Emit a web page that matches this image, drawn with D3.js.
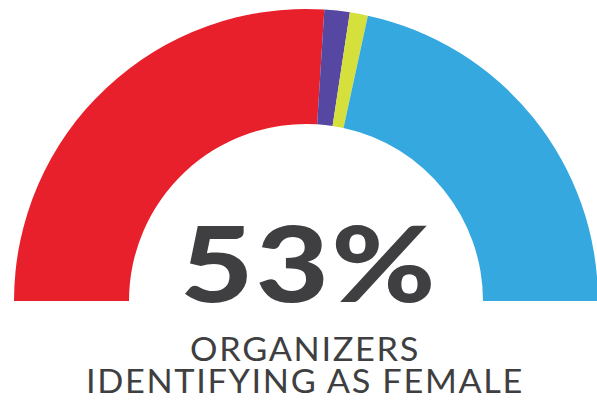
<!DOCTYPE html>
<html lang="en">
<head>
	<meta charset="UTF-8">
	<title>Organizers gauge</title>
	<script type="text/javascript" src="https://cdn.jsdelivr.net/npm/d3@7"></script>
	<style>
		body {
			margin: 0;
			background: #fff;
		}

		svg text {
			font-family: "Lato";
			fill: #3f3f42;
		}
	</style>
</head>
<body>
<div id="viz"></div>

<script type="text/javascript">
	var groups = ['Female', 'Group 2', 'Group 3', 'Male'];
	var shares = [52, 2.8, 2, 43.2];
	var colors = ['#e8202b', '#5647a3', '#d6e03c', '#35a8df'];
	var bigLabel = '53%';
	var captionLines = ['ORGANIZERS', 'IDENTIFYING AS FEMALE'];

	var width = 597, height = 400;
	var cx = 306, cy = 301;

	var svg = d3.select('#viz')
		.append('svg')
		.attr('width', width)
		.attr('height', height);

	var g = svg.append('g')
		.attr('transform', 'translate(' + cx + ',' + cy + ')');

	var pie = d3.pie()
		.sort(null)
		.startAngle(-Math.PI / 2)
		.endAngle(Math.PI / 2)
		.value(function (d) {
			return d;
		});

	var arc = d3.arc()
		.innerRadius(177)
		.outerRadius(292);

	var color = d3.scaleOrdinal()
		.domain(groups)
		.range(colors);

	g.selectAll('.slice')
		.data(pie(shares))
		.enter().append('path')
		.attr('class', 'slice')
		.attr('d', arc)
		.style('fill', function (d, i) {
			return color(groups[i]);
		});

	// the original face is wider than Lato, so stretch it a little
	svg.append('g')
		.attr('transform', 'translate(' + (cx + 3) + ',302) scale(1.2,1)')
		.append('text')
		.attr('x', 0)
		.attr('y', 0)
		.attr('text-anchor', 'middle')
		.attr('font-size', 105)
		.attr('font-weight', 900)
		.attr('letter-spacing', 2)
		.text(bigLabel);

	svg.selectAll('.caption')
		.data(captionLines)
		.enter().append('g')
		.attr('class', 'caption')
		.attr('transform', function (d, i) {
			return 'translate(305,' + (361 + i * 32) + ') scale(1.04,1)';
		})
		.append('text')
		.attr('text-anchor', 'middle')
		.attr('font-size', 33)
		.attr('letter-spacing', 1.6)
		.text(function (d) {
			return d;
		});
</script>
</body>
</html>
